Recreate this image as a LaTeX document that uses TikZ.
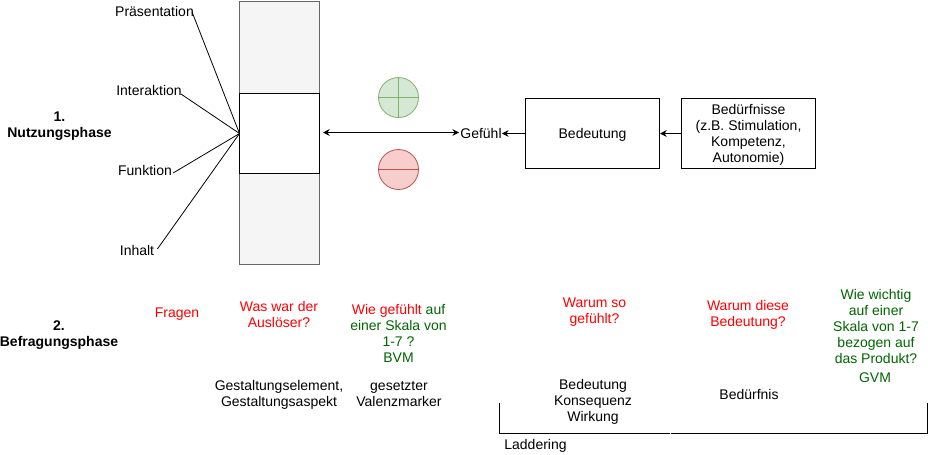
\documentclass[tikz,border=0pt]{standalone}
\usepackage{fontspec}
\setmainfont{Liberation Sans}
\usetikzlibrary{positioning,calc,arrows.meta}
\definecolor{frage}{RGB}{255,0,0}
\definecolor{skala}{RGB}{0,102,0}
\tikzset{
    txt/.style={align=center,inner sep=0pt,font=\fontsize{10.5}{12}\selectfont},
    phase/.style={txt,font=\fontsize{10.5}{12}\selectfont\bfseries},
    frage/.style={txt,text=frage},
    skala/.style={txt,text=skala},
    box/.style={draw,line width=0.75pt,minimum width=#1*0.75pt,minimum height=52.1pt,inner sep=0pt},
    boxtxt/.style={txt,yshift=-1pt},
    strich/.style={line width=0.6pt},
    pfeil/.style={line width=0.75pt,-{Stealth[length=5pt,width=5pt]}},
    doppel/.style={line width=0.75pt,{Stealth[length=5pt,width=5pt]}-{Stealth[length=5pt,width=5pt]}},
}
\begin{document}
\begin{tikzpicture}[x=0.75pt,y=-0.75pt]
\useasboundingbox (0,0) rectangle (928,454);
% Nutzungsphase
\node (nutzung) at (59.5,126) [phase] {1.\\Nutzungsphase};
\node (praes) at (154.5,11) [txt] {Präsentation};
\node (inter) at (149,90) [txt] {Interaktion};
\node (funk) at (145,170) [txt] {Funktion};
\node (inhalt) at (137,250) [txt] {Inhalt};

\draw[line width=0.75pt,draw=black!60,fill=black!4] (239.5,1.5) rectangle (319.5,264.5);
\draw[line width=0.75pt,fill=white] (239.5,93.5) rectangle (319.5,173.5);
\coordinate (fokus) at (239.5,133.5);
\coordinate (rand) at (323,132.5);

\draw[strich] ($(praes.east)+(-2,1)$) -- (fokus);
\draw[strich] ($(inter.east)+(-1,4)$) -- (fokus);
\draw[strich] ($(funk.east)+(1,3)$) -- (fokus);
\draw[strich] ($(inhalt.east)+(3,-1)$) -- (fokus);

% Valenz
\draw[line width=0.6pt,draw={rgb,255:red,130;green,179;blue,102},fill={rgb,255:red,213;green,232;blue,212}] (398.5,97.5) circle (15pt);
\draw[line width=0.6pt,draw={rgb,255:red,130;green,179;blue,102}] (378.5,97.5) -- (418.5,97.5) (398.5,77.5) -- (398.5,117.5);
\draw[line width=0.6pt,draw={rgb,255:red,184;green,84;blue,80},fill={rgb,255:red,248;green,206;blue,204}] (398.5,169.5) circle (15pt);
\draw[line width=0.6pt,draw={rgb,255:red,184;green,84;blue,80}] (378.5,169.5) -- (418.5,169.5);

\node (gefuehl) at (481,133) [txt] {Gefühl};
\node (bedeutung) at (592.5,133.5) [box=134,label={[boxtxt]center:Bedeutung}] {};
\node (beduerfnisse) at (748.5,133.5) [box=134,label={[boxtxt]center:{Bedürfnisse\\(z.B. Stimulation,\\Kompetenz,\\Autonomie)}}] {};

\draw[doppel] (rand) -- ($(gefuehl.west)+(-1,-0.5)$);
\draw[pfeil] (bedeutung.west) -- ($(gefuehl.east)+(0,0.5)$);
\draw[pfeil] (beduerfnisse.west) -- (bedeutung.east);

% Befragungsphase
\node (befragung) at (59,335.5) [phase] {2.\\Befragungsphase};
\node (fragen) at (177,314) [frage] {Fragen};
\node (ausloeser) at (279,314) [frage] {Was war der\\Auslöser?};
\node (bvm) at (398.5,333) [skala] {\textcolor{frage}{Wie gefühlt} auf\\einer Skala von\\1-7 ?\\BVM};
\node (warum) at (594.5,312) [frage] {Warum so\\gefühlt?};
\node (warumb) at (748,315) [frage] {Warum diese\\Bedeutung?};
\node (wichtig) at (876,326.5) [skala] {Wie wichtig\\auf einer\\Skala von 1-7\\bezogen auf\\das Produkt?};
\node (gvm) at (875,378) [skala] {GVM};

\node (element) at (279,394.5) [txt] {Gestaltungselement,\\Gestaltungsaspekt};
\node (marker) at (399,394.5) [txt] {gesetzter\\Valenzmarker};
\node (konsequenz) at (593,401.5) [txt] {Bedeutung\\Konsequenz\\Wirkung};
\node (beduerfnis) at (749,394) [txt] {Bedürfnis};

% Laddering
\coordinate (la) at (499.5,403);
\coordinate (lb) at (499.5,433.5);
\coordinate (lc) at (669.5,433.5);
\coordinate (ld) at (671,433.5);
\coordinate (le) at (927,433.5);
\coordinate (lf) at (927,403);
\draw[line width=0.75pt] (la) -- (lb) -- (lc);
\draw[line width=0.75pt] (ld) -- (le) -- (lf);
\node (laddering) at (535.5,445.5) [txt] {Laddering};
\end{tikzpicture}
\end{document}
